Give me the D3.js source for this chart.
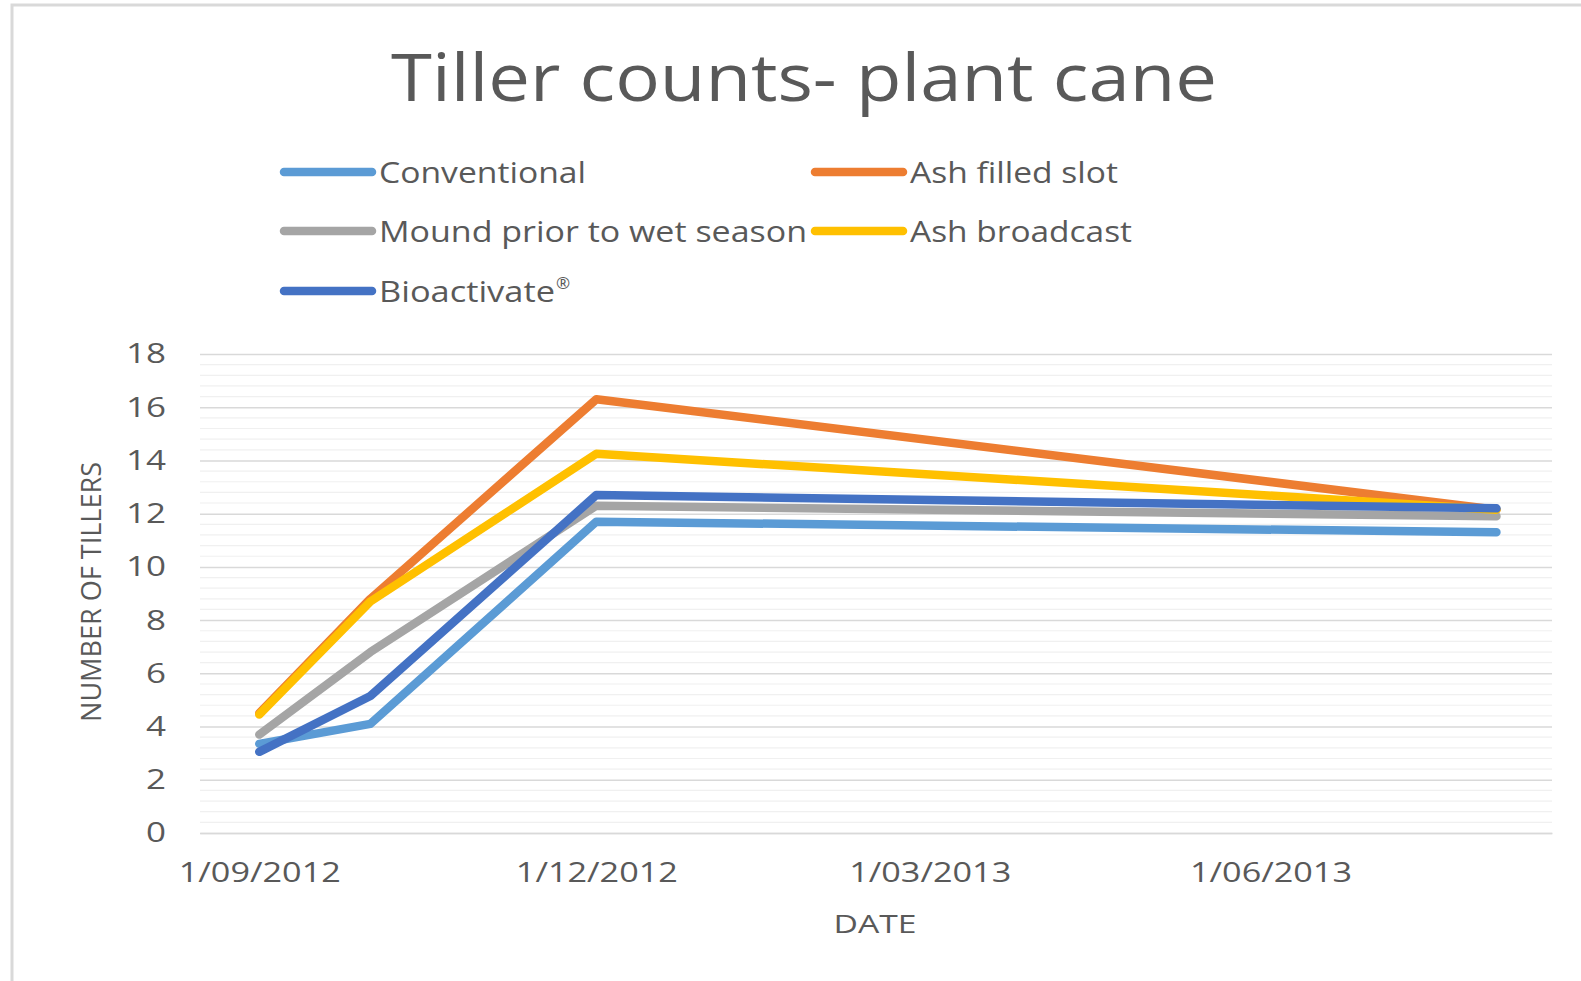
<!DOCTYPE html>
<html>
<head>
<meta charset="utf-8">
<script src="https://cdn.jsdelivr.net/npm/d3@7"></script>
<style>
  html, body { margin: 0; padding: 0; background: #fff; }
  svg { display: block; font-family: "Open Sans", sans-serif; }
</style>
</head>
<body>
<svg id="chart"></svg>
<script>
// sample dates
const dates = ["2012-09-01", "2012-10-01", "2012-12-01", "2013-08-01"];
// x axis ticks
const tickDates = ["2012-09-01", "2012-12-01", "2013-03-01", "2013-06-01"];
const yTicks = [0, 2, 4, 6, 8, 10, 12, 14, 16, 18];

// series values
const conventional = [3.35, 4.1, 11.7, 11.3];
const ashFilledSlot = [4.5, 8.8, 16.3, 12.15];
const moundPrior = [3.7, 6.8, 12.3, 11.9];
const ashBroadcast = [4.45, 8.7, 14.25, 12.15];
const bioactivate = [3.05, 5.15, 12.7, 12.2];

const seriesNames = ["Conventional", "Ash filled slot", "Mound prior to wet season", "Ash broadcast", "Bioactivate"];
const seriesValues = [conventional, ashFilledSlot, moundPrior, ashBroadcast, bioactivate];
const colors = ["#5B9BD5", "#ED7D31", "#A5A5A5", "#FFC000", "#4472C4"];

const width = 1581, height = 981;
const parse = d3.timeParse("%Y-%m-%d");

const svg = d3.select("#chart")
    .attr("width", width)
    .attr("height", height)
    .attr("viewBox", `0 0 ${width} ${height}`);

// chart frame
svg.append("rect")
    .attr("x", 12).attr("y", 5)
    .attr("width", width).attr("height", height)
    .attr("fill", "#fff")
    .attr("stroke", "#d9d9d9")
    .attr("stroke-width", 3);

// plot area
const plotLeft = 200, plotRight = 1552, plotTop = 354, plotBottom = 833;

const x = d3.scaleTime()
    .domain([parse("2012-08-16"), parse("2013-08-16")])
    .range([plotLeft, plotRight]);

const y = d3.scaleLinear()
    .domain([0, 18])
    .range([plotBottom, plotTop]);

// minor gridlines
const minor = d3.range(0, 18.001, 0.4).filter(v => Math.abs(v / 2 - Math.round(v / 2)) > 1e-6);
svg.append("g")
    .selectAll("line")
    .data(minor)
    .join("line")
      .attr("x1", plotLeft).attr("x2", plotRight)
      .attr("y1", d => y(d)).attr("y2", d => y(d))
      .attr("stroke", "#f0f0f0")
      .attr("stroke-width", 1.2);

// y axis with major gridlines
svg.append("g")
    .attr("transform", `translate(${plotLeft},0)`)
    .call(d3.axisLeft(y).tickValues(yTicks).tickSize(-(plotRight - plotLeft)).tickPadding(34))
    .call(g => g.select(".domain").remove())
    .call(g => g.selectAll(".tick line").attr("stroke", "#d9d9d9").attr("stroke-width", 1.5))
    .call(g => g.selectAll(".tick text")
        .attr("fill", "#595959")
        .attr("font-size", 28)
        .attr("font-family", "Open Sans")
        .attr("textLength", d => String(d).length * 20)
        .attr("lengthAdjust", "spacingAndGlyphs"));

// x axis
svg.append("g")
    .attr("transform", `translate(0,${plotBottom})`)
    .call(d3.axisBottom(x)
        .tickValues(tickDates.map(parse))
        .tickFormat(d3.timeFormat("%-d/%m/%Y"))
        .tickSize(0)
        .tickPadding(30))
    .call(g => g.select(".domain").attr("stroke", "#d9d9d9").attr("stroke-width", 1.5))
    .call(g => g.selectAll(".tick text")
        .attr("fill", "#595959")
        .attr("font-size", 27)
        .attr("font-family", "Open Sans")
        .attr("dy", "0.71em")
        .attr("textLength", 162)
        .attr("lengthAdjust", "spacingAndGlyphs"));

// lines
const line = d3.line()
    .x((d, i) => x(parse(dates[i])))
    .y(d => y(d));

svg.append("g")
    .selectAll("path")
    .data(seriesValues)
    .join("path")
      .attr("d", d => line(d))
      .attr("fill", "none")
      .attr("stroke", (d, i) => colors[i])
      .attr("stroke-width", 8.5)
      .attr("stroke-linejoin", "round")
      .attr("stroke-linecap", "round");

// title
svg.append("text")
    .attr("x", 804).attr("y", 101)
    .attr("text-anchor", "middle")
    .attr("fill", "#595959")
    .attr("font-size", 66)
    .attr("textLength", 826)
    .attr("lengthAdjust", "spacingAndGlyphs")
    .text("Tiller counts- plant cane");

// legend
const legendPos = [
  {x: 284, y: 172, w: 207},
  {x: 815, y: 172, w: 208},
  {x: 284, y: 231, w: 428},
  {x: 815, y: 231, w: 222},
  {x: 284, y: 291, w: 176}
];
const legend = svg.append("g")
    .selectAll("g")
    .data(seriesNames)
    .join("g")
      .attr("transform", (d, i) => `translate(${legendPos[i].x},${legendPos[i].y})`);

legend.append("line")
    .attr("x1", 0).attr("x2", 88)
    .attr("stroke", (d, i) => colors[i])
    .attr("stroke-width", 8.5)
    .attr("stroke-linecap", "round");

legend.append("text")
    .attr("x", 95)
    .attr("y", 11)
    .attr("fill", "#595959")
    .attr("font-size", 29)
    .attr("textLength", (d, i) => legendPos[i].w)
    .attr("lengthAdjust", "spacingAndGlyphs")
    .text(d => d);

// registered mark on the last legend entry
svg.append("text")
    .attr("x", legendPos[4].x + 95 + legendPos[4].w + 1)
    .attr("y", legendPos[4].y - 2)
    .attr("fill", "#595959")
    .attr("font-size", 17)
    .text("\u00AE");

// axis titles
svg.append("text")
    .attr("transform", "translate(101,592) rotate(-90)")
    .attr("text-anchor", "middle")
    .attr("fill", "#595959")
    .attr("font-size", 27)
    .attr("textLength", 260)
    .attr("lengthAdjust", "spacingAndGlyphs")
    .text("NUMBER OF TILLERS");

svg.append("text")
    .attr("x", 875).attr("y", 933)
    .attr("text-anchor", "middle")
    .attr("fill", "#595959")
    .attr("font-size", 26)
    .attr("textLength", 83)
    .attr("lengthAdjust", "spacingAndGlyphs")
    .text("DATE");
</script>
</body>
</html>
